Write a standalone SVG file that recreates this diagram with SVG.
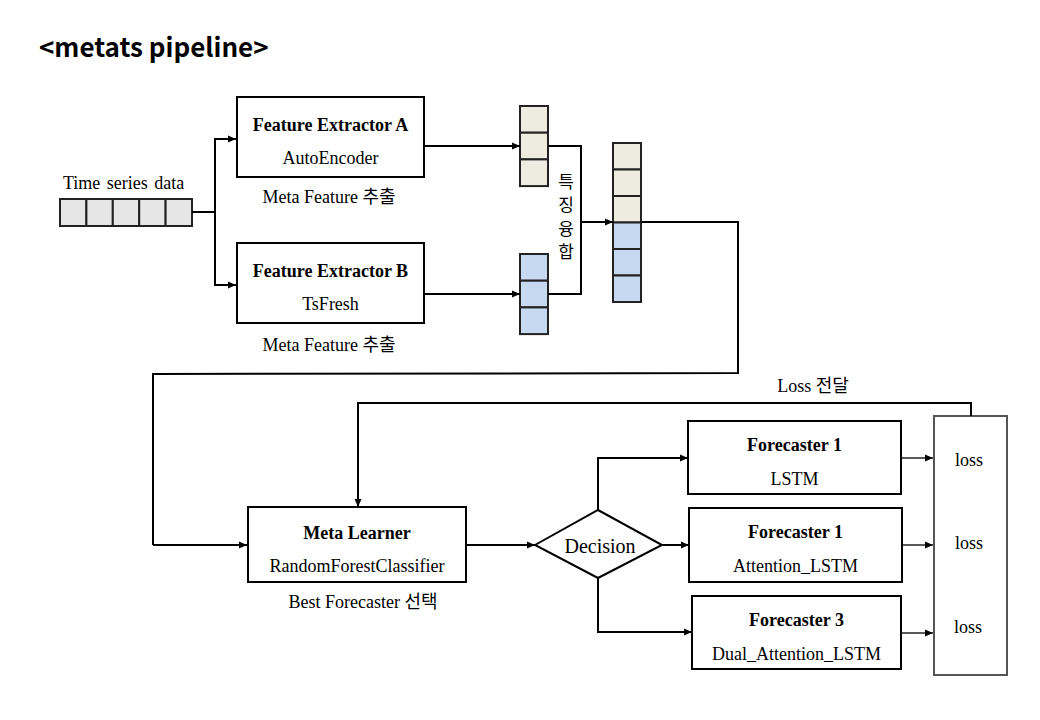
<svg xmlns="http://www.w3.org/2000/svg" width="1040" height="720" viewBox="0 0 1040 720">
<style>
.t{font-family:"Liberation Serif","Noto Sans CJK KR",serif;font-size:18px;fill:#000}
.b{font-weight:bold}
.box{fill:#fff;stroke:#000;stroke-width:2}
.ln{fill:none;stroke:#000;stroke-width:2}
.thin{fill:none;stroke:#000;stroke-width:1.3}
.beige{fill:#eeece1;stroke:#222;stroke-width:2}
.blue{fill:#c6d9f1;stroke:#222;stroke-width:2}
.ts{fill:#e6e6e6;stroke:#222;stroke-width:2}
.k{font-family:"Noto Sans CJK KR",sans-serif;font-size:17px;fill:#000}
</style>
<defs>
<marker id="ar" markerWidth="9" markerHeight="8" refX="8" refY="4" orient="auto" markerUnits="userSpaceOnUse">
<path d="M0,0.5 L8,4 L0,7.5 z" fill="#000"/>
</marker>
</defs>
<rect width="1040" height="720" fill="#fff"/>
<text x="39" y="57" style="font-family:'Noto Sans CJK KR','Liberation Sans',sans-serif;font-size:26px;font-weight:bold">&lt;metats pipeline&gt;</text>

<g id="timeseries">
<text class="t" x="63" y="189" style="word-spacing:2px">Time series data</text>
<rect class="ts" x="60" y="199" width="26.4" height="27"/>
<rect class="ts" x="86.4" y="199" width="26.4" height="27"/>
<rect class="ts" x="112.8" y="199" width="26.4" height="27"/>
<rect class="ts" x="139.2" y="199" width="26.4" height="27"/>
<rect class="ts" x="165.6" y="199" width="26.4" height="27"/>
</g>

<g id="extractorA">
<rect class="box" x="237" y="97" width="187" height="80"/>
<text class="t b" x="330.5" y="131" text-anchor="middle">Feature Extractor A</text>
<text class="t" x="330.5" y="164" text-anchor="middle">AutoEncoder</text>
<text class="t" x="329" y="203" text-anchor="middle">Meta Feature 추출</text>
</g>

<g id="extractorB">
<rect class="box" x="237" y="243" width="187" height="80"/>
<text class="t b" x="330.5" y="277" text-anchor="middle">Feature Extractor B</text>
<text class="t" x="330.5" y="310" text-anchor="middle">TsFresh</text>
<text class="t" x="329" y="351" text-anchor="middle">Meta Feature 추출</text>
</g>

<g id="vectorA">
<rect class="beige" x="520" y="106" width="28" height="26.7"/>
<rect class="beige" x="520" y="132.7" width="28" height="26.7"/>
<rect class="beige" x="520" y="159.4" width="28" height="26.7"/>
</g>

<g id="vectorB">
<rect class="blue" x="520" y="254" width="28" height="26.7"/>
<rect class="blue" x="520" y="280.7" width="28" height="26.7"/>
<rect class="blue" x="520" y="307.4" width="28" height="26.7"/>
</g>

<g id="fusion-label">
<text class="k" x="566" y="188" text-anchor="middle">특</text>
<text class="k" x="566" y="211" text-anchor="middle">징</text>
<text class="k" x="566" y="235" text-anchor="middle">융</text>
<text class="k" x="566" y="258" text-anchor="middle">합</text>
</g>

<g id="fused">
<rect class="beige" x="613" y="143" width="28" height="26.5"/>
<rect class="beige" x="613" y="169.5" width="28" height="26.5"/>
<rect class="beige" x="613" y="196" width="28" height="26.5"/>
<rect class="blue" x="613" y="222.5" width="28" height="26.5"/>
<rect class="blue" x="613" y="249" width="28" height="26.5"/>
<rect class="blue" x="613" y="275.5" width="28" height="26.5"/>
</g>

<g id="metalearner">
<rect class="box" x="248" y="507" width="218" height="75"/>
<text class="t b" x="357" y="539" text-anchor="middle">Meta Learner</text>
<text class="t" x="357" y="572" text-anchor="middle">RandomForestClassifier</text>
<text class="t" x="363" y="608" text-anchor="middle">Best Forecaster 선택</text>
</g>

<g id="decision">
<polygon points="535,545 598,510 662,545 598,578" fill="#fff" stroke="#000" stroke-width="2"/>
<text class="t" x="600" y="553" text-anchor="middle" style="font-size:20px">Decision</text>
</g>

<g id="forecaster1">
<rect class="box" x="688" y="421" width="213" height="73"/>
<text class="t b" x="794.5" y="451" text-anchor="middle">Forecaster 1</text>
<text class="t" x="794.5" y="485" text-anchor="middle">LSTM</text>
</g>

<g id="forecaster2">
<rect class="box" x="689" y="508" width="213" height="74"/>
<text class="t b" x="795.5" y="538" text-anchor="middle">Forecaster 1</text>
<text class="t" x="795.5" y="572" text-anchor="middle">Attention_LSTM</text>
</g>

<g id="forecaster3">
<rect class="box" x="692" y="596" width="209" height="73"/>
<text class="t b" x="796.5" y="626" text-anchor="middle">Forecaster 3</text>
<text class="t" x="796.5" y="660" text-anchor="middle">Dual_Attention_LSTM</text>
</g>

<g id="lossbox">
<rect x="934" y="416" width="73" height="259" fill="#fff" stroke="#555" stroke-width="2"/>
<text class="t" x="969" y="466" text-anchor="middle">loss</text>
<text class="t" x="969" y="549" text-anchor="middle">loss</text>
<text class="t" x="968" y="633" text-anchor="middle">loss</text>
</g>

<g id="loss-label">
<text class="t" x="813" y="392" text-anchor="middle">Loss 전달</text>
</g>

<g id="connectors">
<polyline class="ln" points="192,212 215,212"/>
<polyline class="ln" points="236,139 215,139 215,285 236,285"/>
<line class="ln" x1="215" y1="139" x2="236" y2="139" marker-end="url(#ar)"/>
<line class="ln" x1="215" y1="285" x2="236" y2="285" marker-end="url(#ar)"/>
<line class="ln" x1="424" y1="146" x2="520" y2="146" marker-end="url(#ar)"/>
<line class="ln" x1="424" y1="294" x2="520" y2="294" marker-end="url(#ar)"/>
<polyline class="ln" points="548,146 581,146 581,294 548,294"/>
<line class="ln" x1="581" y1="222" x2="613" y2="222" marker-end="url(#ar)"/>
<polyline class="ln" points="641,222 738,222 738,373 153,374 153,545"/>
<line class="ln" x1="153" y1="545" x2="247" y2="545" marker-end="url(#ar)"/>
<polyline class="ln" points="971,416 971,403 358,403 358,490"/>
<line class="ln" x1="358" y1="490" x2="358" y2="507" marker-end="url(#ar)"/>
<line class="ln" x1="466" y1="545" x2="535" y2="545" marker-end="url(#ar)"/>
<polyline class="ln" points="598,510 598,458 670,458"/>
<line class="ln" x1="670" y1="458" x2="688" y2="458" marker-end="url(#ar)"/>
<line class="ln" x1="662" y1="545" x2="689" y2="545" marker-end="url(#ar)"/>
<polyline class="ln" points="598,578 598,632 670,632"/>
<line class="ln" x1="670" y1="632" x2="692" y2="632" marker-end="url(#ar)"/>
<line class="thin" x1="901" y1="458" x2="933" y2="458" marker-end="url(#ar)"/>
<line class="thin" x1="902" y1="545" x2="933" y2="545" marker-end="url(#ar)"/>
<line class="thin" x1="901" y1="633" x2="933" y2="633" marker-end="url(#ar)"/>
</g>
</svg>
